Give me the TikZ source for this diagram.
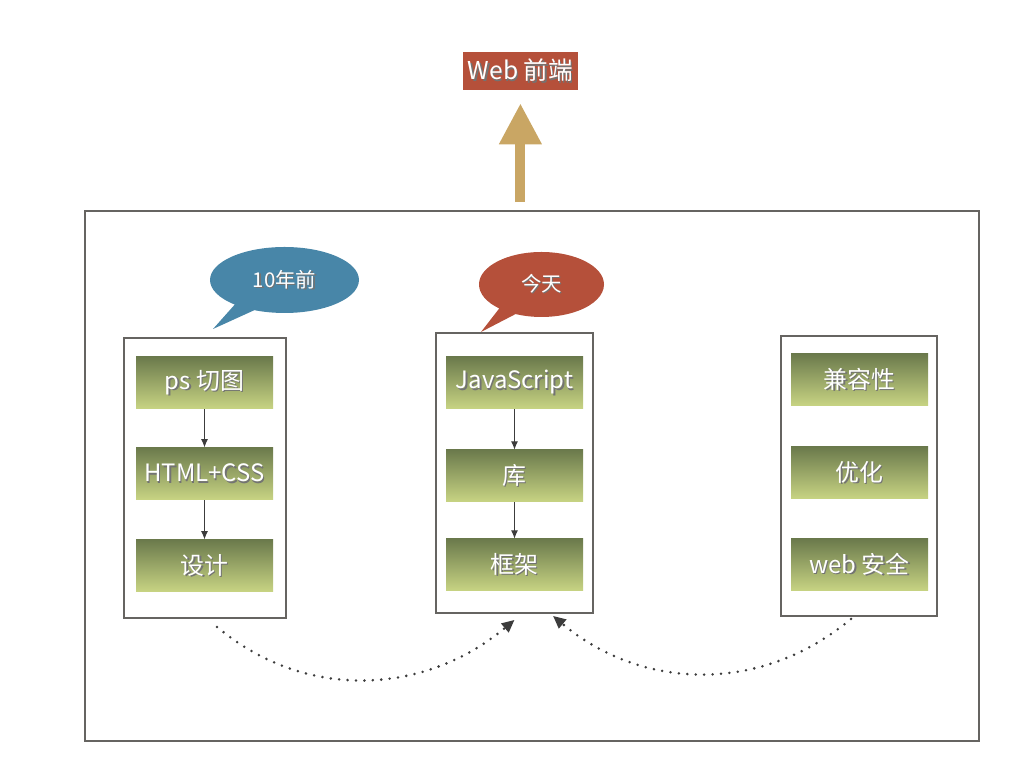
\documentclass[tikz,border=0pt]{standalone}
\usepackage{fontspec}
\setmainfont{Noto Sans CJK SC}
\usetikzlibrary{shapes.callouts, arrows.meta, positioning}
\definecolor{leafTop}{HTML}{6B7A4C}
\definecolor{leafBot}{HTML}{C8D483}
\definecolor{brick}{HTML}{B5503A}
\definecolor{sea}{HTML}{4886A8}
\definecolor{sand}{HTML}{C9A664}
\definecolor{frameGray}{HTML}{666461}
\definecolor{ink}{HTML}{3C3C3C}
\tikzstyle{item} = [top color=leafTop, bottom color=leafBot, rectangle, minimum width=3.425cm, minimum height=1.3cm, inner sep=0pt, font=\fontsize{17}{20}\selectfont]
\tikzstyle{column} = [draw=frameGray, line width=1.3pt, rectangle, minimum height=7cm, inner sep=0pt]
\tikzstyle{bubble} = [ellipse callout, callout pointer arc=18, inner sep=0pt, font=\fontsize{14.5}{17}\selectfont]
\tikzstyle{flow} = [draw=ink, line width=0.8pt, -{Latex[length=6pt,width=5pt]}]
\tikzstyle{hop} = [draw=ink, line width=2pt, dash pattern=on 0pt off 6pt, line cap=round, -{Triangle[length=9pt,width=8pt]}]
\newcommand{\lift}[1]{\makebox[0pt][l]{\hspace{1pt}\raisebox{-1pt}{\color{black!55}#1}}{\color{white}#1}}

\begin{document}
\begin{tikzpicture}[>=latex]
    \useasboundingbox (0,0) rectangle (25.6,19.2);
    % outer frame and the three columns
    \node[draw=frameGray, line width=1.3pt, minimum width=22.35cm, minimum height=13.25cm] (frame) at (13.3,7.3) {};
    \node[column, minimum width=4.05cm] (col1) at (5.125,7.25) {};
    \node[column, minimum width=3.925cm] (col2) at (12.8625,7.375) {};
    \node[column, minimum width=3.9cm] (col3) at (21.475,7.3) {};
    % first column
    \node[item] (ps) at (5.1125,9.625) {\lift{ps 切图}};
    \node[item, below of=ps, node distance=2.27cm] (html) {\lift{HTML+CSS}};
    \node[item, below of=html, node distance=2.3cm] (design) {\lift{设计}};
    \draw[flow] (ps) -- (html);
    \draw[flow] (html) -- (design);
    % second column
    \node[item] (js) at (12.8625,9.625) {\lift{JavaScript}};
    \node[item, below of=js, node distance=2.325cm] (lib) {\lift{库}};
    \node[item, below of=lib, node distance=2.225cm] (fw) {\lift{框架}};
    \draw[flow] (js) -- (lib);
    \draw[flow] (lib) -- (fw);
    % third column
    \node[item] (compat) at (21.4875,9.7) {\lift{兼容性}};
    \node[item, below of=compat, node distance=2.325cm] (opt) {\lift{优化}};
    \node[item, below of=opt, node distance=2.3cm] (safe) {\lift{web 安全}};
    % speech bubbles
    \node[bubble, fill=sea, minimum width=3.725cm, minimum height=1.65cm, callout absolute pointer={(5.325,10.975)}] (then) at (7.1125,12.2) {\lift{10年前}};
    \node[bubble, fill=brick, minimum width=3.125cm, minimum height=1.625cm, callout absolute pointer={(12.025,10.9)}] (now) at (13.5375,12.0875) {\lift{今天}};
    % title and the big arrow
    \node[fill=brick, minimum width=2.875cm, minimum height=0.95cm, inner sep=0pt, font=\fontsize{17.5}{20}\selectfont] (title) at (13.01,17.425) {\lift{Web 前端}};
    \path (title.south |- frame.north) ++(0,0.2) coordinate (rise);
    \draw[sand, line width=0.25cm, -{Triangle[width=1cm,length=1.025cm]}] (rise) -- ([yshift=-0.325cm]title.south);
    % dotted links
    \draw[hop] ([xshift=0.3cm,yshift=-0.2cm]col1.south) to[out=-40, in=-140] ([yshift=-0.15cm]col2.south);
    \draw[hop] ([xshift=-0.2cm,yshift=-0.05cm]col3.south) to[out=-140, in=-40] ([xshift=0.9625cm,yshift=-0.05cm]col2.south);
\end{tikzpicture}
\end{document}
